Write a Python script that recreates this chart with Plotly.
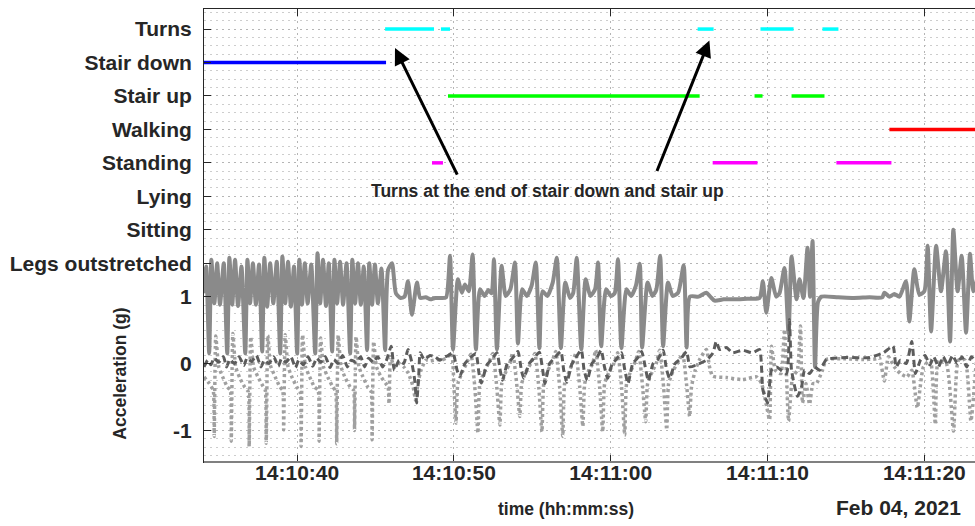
import numpy as np
import pandas as pd
import plotly.graph_objects as go

# ---------------- data ----------------
BASE_TIME = "2021-02-04 14:10:40"
X_START = -5.94   # seconds relative to BASE_TIME (visible window)
X_END = 43.23

# y-axis: activity levels sit above the acceleration scale (g)
y_tick_vals = [-1, 0, 1, 1.5, 2, 2.5, 3, 3.5, 4, 4.5, 5]
y_tick_text = ["-1", "0", "1", "Legs outstretched", "Sitting", "Lying", "Standing",
               "Walking", "Stair up", "Stair down", "Turns"]
activity_level = {"Legs outstretched": 1.5, "Sitting": 2.0, "Lying": 2.5, "Standing": 3.0,
                  "Walking": 3.5, "Stair up": 4.0, "Stair down": 4.5, "Turns": 5.0}

# activity segments: (start s, end s) relative to BASE_TIME
seg_stair_down = [(-6.5, 5.67)]
seg_turns = [(5.61, 8.73), (9.17, 9.75), (25.54, 26.56), (29.55, 31.66), (33.5, 34.52)]
seg_stair_up = [(9.62, 25.67), (29.17, 29.68), (31.53, 33.63)]
seg_walking = [(37.77, 46.0)]
seg_standing = [(8.6, 9.3), (26.5, 29.36), (34.39, 37.9)]

activity_colors = {"Turns": "#00FFFF", "Stair down": "#0000FF", "Stair up": "#00FF00",
                   "Walking": "#FF0000", "Standing": "#FF00FF"}

# acceleration (g) - solid (vertical axis)
acc_solid = [
    (-5.94, 1.05), (-5.80, 1.45), (-5.61, 0.15), (-5.47, 1.55), (-5.28, 0.9), (-5.10, 1.5),
    (-4.92, 0.88), (-4.68, 1.5), (-4.46, 0.15), (-4.32, 1.58), (-4.14, 0.88), (-3.96, 1.55),
    (-3.77, 0.86), (-3.55, 1.45), (-3.31, 0.15), (-3.17, 1.55), (-3.0, 0.9), (-2.82, 1.5),
    (-2.63, 0.88), (-2.43, 1.48), (-2.23, 0.18), (-2.09, 1.58), (-1.91, 0.85), (-1.72, 1.5),
    (-1.52, 0.9), (-1.3, 1.52), (-1.08, 0.15), (-0.94, 1.6), (-0.76, 0.9), (-0.58, 1.52),
    (-0.4, 0.85), (-0.2, 1.45), (0.0, 0.15), (0.14, 1.55), (0.31, 0.88), (0.49, 1.5),
    (0.67, 0.9), (0.9, 1.48), (1.15, 0.15), (1.3, 1.65), (1.47, 0.9), (1.65, 1.55),
    (1.84, 0.86), (2.02, 1.5), (2.23, 0.18), (2.38, 1.55), (2.55, 0.9), (2.74, 1.52),
    (2.93, 0.88), (3.15, 1.5), (3.38, 0.15), (3.52, 1.55), (3.7, 0.9), (3.88, 1.5),
    (4.06, 0.88), (4.25, 1.45), (4.46, 0.2), (4.6, 1.5), (4.78, 0.88), (4.96, 1.48),
    (5.15, 0.9), (5.38, 1.42), (5.61, 0.2),
    (5.8, 1.4), (6.05, 1.5), (6.3, 1.05), (6.6, 0.98), (6.85, 1.0), (7.07, 1.23), (7.32, 0.73),
    (7.64, 1.21), (7.85, 0.98), (8.2, 0.99), (8.5, 0.96), (8.8, 0.98), (9.2, 0.98), (9.5, 0.99),
    (9.75, 1.61), (9.94, 0.21), (10.25, 1.26), (10.5, 1.06), (10.7, 1.18), (10.95, 1.08),
    (11.19, 1.63), (11.4, 0.21), (11.66, 1.11), (11.95, 1.01), (12.2, 1.1), (12.4, 1.05),
    (12.55, 1.56), (12.74, 0.21), (13.04, 1.46), (13.3, 1.01), (13.6, 1.11),
    (13.89, 1.51), (14.08, 0.3), (14.35, 1.11), (14.65, 1.01), (14.95, 1.16),
    (15.22, 1.51), (15.45, 0.23), (15.65, 1.08), (15.95, 1.01), (16.3, 1.21),
    (16.56, 1.58), (16.82, 0.23), (17.1, 1.21), (17.4, 0.98), (17.6, 1.05),
    (17.83, 1.58), (18.12, 0.21), (18.4, 1.26), (18.7, 1.01), (19.0, 1.11),
    (19.19, 1.51), (19.39, 0.26), (19.7, 1.11), (20.0, 1.01), (20.25, 1.05),
    (20.46, 1.56), (20.68, 0.23), (21.0, 1.11), (21.3, 1.01), (21.6, 1.16),
    (21.85, 1.49), (22.0, 0.24), (22.35, 1.21), (22.65, 1.01), (22.9, 1.1),
    (23.15, 1.61), (23.34, 0.26), (23.65, 1.21), (23.95, 1.01), (24.3, 1.06),
    (24.65, 1.47), (24.84, 0.24),
    (25.05, 1.0), (25.6, 1.0), (26.1, 1.06), (26.35, 1.0), (26.62, 0.94), (27.2, 0.96),
    (28.0, 0.96), (28.8, 0.97), (29.49, 0.98), (29.7, 1.23), (29.92, 0.76), (30.24, 1.28),
    (30.55, 1.0), (30.76, 1.05), (31.08, 1.43), (31.34, 0.45), (31.53, 1.6), (31.85, 0.96),
    (32.04, 1.26), (32.29, 0.98), (32.55, 1.73), (32.71, 1.0), (32.87, 1.83), (33.03, -0.05),
    (33.22, 0.92), (33.44, 1.0), (34.5, 0.99), (35.5, 0.98), (36.5, 0.99), (37.32, 0.99),
    (37.45, 1.06), (37.77, 1.0), (38.09, 1.04), (38.41, 1.0), (38.83, 1.23), (39.04, 0.63),
    (39.36, 1.41), (39.68, 1.03), (40.0, 1.08), (40.21, 1.76), (40.43, 0.48), (40.75, 1.76),
    (41.06, 1.08), (41.38, 1.68), (41.64, 0.33), (41.85, 2.0), (42.12, 1.08), (42.38, 1.61),
    (42.66, 0.46), (42.91, 1.64), (43.12, 1.08), (43.4, 1.3),
]

# acceleration (g) - dashed (dark)
acc_dashed = [
    (-5.94, -0.05), (-5.7, 0.05), (-5.5, -0.02), (-5.3, 0.08), (-5.0, 0.02), (-4.7, 0.1),
    (-4.5, -0.05), (-4.3, 0.06), (-4.0, 0.0), (-3.7, 0.1), (-3.4, -0.03), (-3.2, 0.08),
    (-2.9, 0.03), (-2.6, 0.12), (-2.3, -0.05), (-2.1, 0.05), (-1.8, 0.0), (-1.5, 0.1),
    (-1.2, -0.04), (-1.0, 0.07), (-0.7, 0.02), (-0.4, 0.1), (-0.1, -0.06), (0.1, 0.05),
    (0.4, -0.02), (0.7, 0.1), (1.0, -0.04), (1.25, 0.08), (1.5, 0.02), (1.8, 0.1),
    (2.1, -0.06), (2.35, 0.06), (2.6, 0.0), (2.9, 0.12), (3.2, -0.05), (3.45, 0.05),
    (3.75, 0.02), (4.05, 0.1), (4.3, -0.05), (4.55, 0.08), (4.85, 0.02), (5.15, 0.1),
    (5.45, -0.05), (5.7, 0.05),
    (6.0, 0.26), (6.2, -0.1), (6.5, 0.05), (6.8, 0.0), (7.07, 0.21), (7.3, 0.03), (7.5, -0.25),
    (7.62, -0.59), (7.75, -0.2), (7.85, 0.16), (8.1, 0.06), (8.47, 0.12), (8.8, 0.1),
    (9.11, 0.05), (9.4, 0.1), (9.55, 0.11),
    (9.94, 0.16), (10.2, -0.1), (10.38, -0.19), (10.7, 0.0), (11.0, 0.08),
    (11.4, 0.15), (11.6, -0.15), (11.75, -0.29), (12.1, -0.02), (12.4, 0.06),
    (12.74, 0.16), (12.95, -0.1), (13.1, -0.25), (13.4, 0.0), (13.7, 0.07),
    (14.08, 0.18), (14.3, -0.1), (14.45, -0.22), (14.8, 0.0), (15.1, 0.08),
    (15.45, 0.17), (15.65, -0.08), (15.8, -0.3), (16.1, 0.0), (16.4, 0.08),
    (16.82, 0.18), (17.0, -0.1), (17.2, -0.28), (17.5, -0.02), (17.7, 0.06),
    (18.12, 0.2), (18.3, -0.1), (18.5, -0.25), (18.8, 0.0), (19.1, 0.08),
    (19.39, 0.2), (19.6, -0.05), (19.8, -0.22), (20.1, 0.0), (20.35, 0.06),
    (20.68, 0.16), (20.9, -0.1), (21.1, -0.3), (21.4, 0.0), (21.7, 0.08),
    (21.97, 0.18), (22.2, -0.05), (22.4, -0.26), (22.7, 0.0), (23.0, 0.06),
    (23.34, 0.2), (23.55, -0.08), (23.75, -0.22), (24.1, 0.0), (24.5, 0.08),
    (24.84, 0.18), (25.05, -0.05), (25.46, -0.02), (26.1, 0.05), (26.52, 0.16), (26.73, 0.33),
    (26.94, 0.21), (27.37, 0.24), (27.77, 0.16), (28.41, 0.2), (29.04, 0.16), (29.49, 0.21),
    (29.7, -0.39), (30.0, -0.59), (30.25, -0.1), (30.57, -0.05), (31.21, -0.15), (31.4, 0.66),
    (31.53, -0.1), (31.91, -0.49), (32.17, -0.35), (32.36, -0.1), (32.68, -0.15), (33.0, -0.05),
    (33.31, -0.1), (33.76, 0.06), (35.0, 0.09), (36.5, 0.09), (37.39, 0.16), (38.0, 0.26),
    (38.2, -0.05), (38.47, 0.05), (38.85, 0.0), (39.2, 0.33), (39.43, -0.15), (39.75, 0.05),
    (40.05, 0.12), (40.35, -0.02), (40.6, 0.1), (40.9, -0.05), (41.2, 0.1), (41.5, -0.02),
    (41.8, 0.12), (42.1, 0.0), (42.4, 0.1), (42.7, -0.05), (43.0, 0.1), (43.3, 0.02),
]

# acceleration (g) - dotted (light)
acc_dotted = [
    (-5.94, -0.2), (-5.6, -0.3), (-5.35, -0.4), (-5.29, -1.09), (-5.19, 0.41), (-5.0, -0.05),
    (-4.75, -0.2), (-4.45, -0.35), (-4.26, -0.4), (-4.2, -1.16), (-4.1, 0.45), (-3.92, -0.05),
    (-3.65, -0.22), (-3.35, -0.35), (-3.12, -0.42), (-3.06, -1.24), (-2.96, 0.4), (-2.78, -0.05),
    (-2.5, -0.2), (-2.2, -0.33), (-2.03, -0.4), (-1.97, -1.19), (-1.87, 0.42), (-1.7, -0.03),
    (-1.4, -0.2), (-1.1, -0.35), (-0.92, -0.4), (-0.86, -0.99), (-0.76, 0.43), (-0.58, -0.05),
    (-0.3, -0.22), (0.0, -0.36), (0.19, -0.42), (0.25, -1.24), (0.35, 0.43), (0.53, -0.05),
    (0.8, -0.2), (1.1, -0.35), (1.34, -0.4), (1.4, -1.16), (1.5, 0.38), (1.68, -0.05),
    (1.95, -0.2), (2.25, -0.34), (2.46, -0.42), (2.52, -1.2), (2.62, 0.42), (2.8, -0.05),
    (3.08, -0.22), (3.38, -0.35), (3.6, -0.4), (3.66, -1.0), (3.76, 0.4), (3.94, -0.05),
    (4.2, -0.2), (4.5, -0.35), (4.72, -0.42), (4.78, -1.14), (4.88, 0.33), (5.06, -0.05),
    (5.35, -0.2), (5.65, -0.3), (5.8, -0.35), (5.86, -0.6), (5.96, 0.1),
    (6.2, -0.05), (6.5, 0.0), (6.8, -0.05), (7.1, -0.15), (7.4, -0.35), (7.55, -0.55),
    (7.7, -0.3), (7.9, -0.1), (8.2, 0.05), (8.5, 0.04), (8.9, 0.06), (9.2, 0.05), (9.5, 0.08),
    (9.85, 0.15), (10.0, -0.35), (10.13, -0.89), (10.25, -0.3), (10.55, -0.12), (10.8, 0.0),
    (11.08, 0.14), (11.33, -0.35), (11.53, -1.04), (11.65, -0.3), (11.95, -0.12), (12.2, 0.0),
    (12.48, 0.15), (12.73, -0.35), (12.93, -0.92), (13.05, -0.3), (13.35, -0.1), (13.55, 0.0),
    (13.75, 0.16), (14.0, -0.3), (14.2, -0.79), (14.32, -0.3), (14.6, -0.12), (14.9, 0.0),
    (15.16, 0.15), (15.41, -0.35), (15.61, -1.02), (15.73, -0.3), (16.0, -0.1), (16.25, 0.02),
    (16.49, 0.18), (16.74, -0.35), (16.94, -1.09), (17.06, -0.3), (17.35, -0.12), (17.55, 0.0),
    (17.77, 0.15), (18.02, -0.35), (18.22, -0.94), (18.34, -0.3), (18.6, -0.1), (18.85, 0.0),
    (19.04, 0.2), (19.29, -0.35), (19.49, -1.02), (19.61, -0.3), (19.9, -0.12), (20.2, 0.0),
    (20.44, 0.16), (20.69, -0.35), (20.89, -1.07), (21.01, -0.3), (21.3, -0.1), (21.55, 0.02),
    (21.78, 0.18), (22.03, -0.35), (22.23, -0.87), (22.35, -0.3), (22.65, -0.12), (22.9, 0.0),
    (23.12, 0.2), (23.37, -0.35), (23.57, -0.99), (23.69, -0.3), (24.0, -0.1), (24.3, 0.02),
    (24.58, 0.15), (24.83, -0.3), (25.03, -0.79), (25.15, -0.35), (25.4, -0.09), (25.67, 0.06),
    (26.1, 0.21), (26.3, -0.05), (26.5, -0.19), (27.39, -0.21), (28.41, -0.24), (29.3, -0.2),
    (29.62, -0.3), (29.94, -0.64), (30.13, -0.84), (30.25, 0.26), (30.5, -0.1), (30.85, -0.15),
    (31.08, 0.51), (31.34, -0.86), (31.6, -0.2), (31.9, -0.1), (32.1, 0.56), (32.23, -0.59),
    (32.45, -0.3), (32.68, -0.61), (32.9, -0.3), (33.12, -0.3), (33.5, -0.1), (33.76, 0.06),
    (35.0, 0.07), (36.0, 0.06), (36.94, 0.07), (37.13, 0.09), (37.45, -0.26), (37.71, 0.1),
    (38.09, -0.05), (38.47, -0.15), (38.9, -0.2), (39.2, -0.1), (39.55, -0.66), (39.94, -0.05),
    (40.38, 0.05), (40.7, -0.91), (40.89, 0.05), (41.4, 0.0), (41.86, -1.01), (42.17, 0.05),
    (42.6, 0.05), (42.97, -0.86), (43.3, 0.0),
]

# ---------------- helpers ----------------
base = pd.Timestamp(BASE_TIME)


def to_time(seconds):
    return base + pd.to_timedelta(seconds, unit="s")


def split(points):
    t = [to_time(p[0]) for p in points]
    v = [p[1] for p in points]
    return t, v


def segments(segs, level):
    xs, ys = [], []
    for s, e in segs:
        xs += [to_time(s), to_time(e), None]
        ys += [level, level, None]
    return xs, ys


fig = go.Figure()

# acceleration signals
t, v = split(acc_solid)
fig.add_trace(go.Scatter(x=t, y=v, mode="lines",
                         line=dict(color="#8a8a8a", width=4, shape="spline", smoothing=0.6),
                         hoverinfo="skip"))
t, v = split(acc_dotted)
fig.add_trace(go.Scatter(x=t, y=v, mode="lines",
                         line=dict(color="#a0a0a0", width=3.5, dash="3px,3px",
                                   shape="spline", smoothing=0.5),
                         hoverinfo="skip"))
t, v = split(acc_dashed)
fig.add_trace(go.Scatter(x=t, y=v, mode="lines",
                         line=dict(color="#5c5c5c", width=3, dash="7px,4px",
                                   shape="spline", smoothing=0.5),
                         hoverinfo="skip"))

# activity segments
for name, segs in [("Stair down", seg_stair_down), ("Turns", seg_turns), ("Stair up", seg_stair_up),
                   ("Walking", seg_walking), ("Standing", seg_standing)]:
    xs, ys = segments(segs, activity_level[name])
    fig.add_trace(go.Scatter(x=xs, y=ys, mode="lines", connectgaps=False,
                             line=dict(color=activity_colors[name], width=3.5), name=name))

FONT = "Liberation Sans, Arial, Helvetica, sans-serif"
TXT = "#262626"

fig.update_layout(
    width=975, height=526,
    margin=dict(l=204, r=0, t=9, b=64),
    plot_bgcolor="white", paper_bgcolor="white",
    showlegend=False,
    font=dict(family=FONT, color=TXT),
)

fig.update_xaxes(
    type="date",
    range=[to_time(X_START), to_time(X_END)],
    tick0="2021-02-04 14:10:00", dtick=10000, tickformat="%H:%M:%S",
    ticks="inside", ticklen=7, tickwidth=1, tickcolor=TXT,
    showline=True, linecolor=TXT, linewidth=1, mirror="ticks",
    showgrid=True, gridcolor="#b5b5b5", griddash="2px,4px", gridwidth=1,
    zeroline=False,
    tickfont=dict(family=FONT, size=21, color=TXT, weight="bold"),
    ticklabelstandoff=-8,
)

fig.update_yaxes(
    range=[-1.472, 5.30],
    tickmode="array", tickvals=y_tick_vals, ticktext=y_tick_text,
    ticks="inside", ticklen=7, tickwidth=1, tickcolor=TXT,
    showline=True, linecolor=TXT, linewidth=1, mirror=False,
    showgrid=True, gridcolor="#b5b5b5", griddash="2px,4px", gridwidth=1,
    minor=dict(tick0=0, dtick=0.125, showgrid=True, gridcolor="#cdcdcd",
               griddash="2px,4px", gridwidth=1, ticks=""),
    zeroline=False,
    tickfont=dict(family=FONT, size=21, color=TXT, weight="bold"),
    ticklabelstandoff=7,
)

bold = dict(family=FONT, color=TXT, weight="bold")

fig.add_shape(type="line", xref="paper", yref="paper", x0=0, x1=1, y0=0, y1=0,
              line=dict(color="#808080", width=2), layer="above")

fig.add_annotation(xref="paper", yref="paper", x=0.469, y=-0.1045, text="time (hh:mm:ss)",
                   showarrow=False, xanchor="center", yanchor="middle", font=dict(size=17.5, **bold))
fig.add_annotation(xref="paper", yref="paper", x=0.9844, y=-0.1015, text="Feb 04, 2021",
                   showarrow=False, xanchor="right", yanchor="middle", font=dict(size=21, **bold))
fig.add_annotation(xref="paper", yref="paper", x=-0.109, y=0.195, text="Acceleration (g)",
                   textangle=-90, showarrow=False, xanchor="center", yanchor="middle",
                   font=dict(size=17.5, **bold))
fig.add_annotation(xref="paper", yref="paper", x=0.446, y=0.598,
                   text="Turns at the end of stair down and stair up",
                   showarrow=False, xanchor="center", yanchor="middle", font=dict(size=17.5, **bold))

# arrows pointing at the turn segments
fig.add_annotation(x=to_time(6.24), y=4.716, xref="x", yref="y", text="", showarrow=True,
                   ax=63, ay=128, arrowhead=2, arrowsize=1.1, arrowwidth=3, arrowcolor="#000000",
                   standoff=0)
fig.add_annotation(x=to_time(26.29), y=4.83, xref="x", yref="y", text="", showarrow=True,
                   ax=-53, ay=132, arrowhead=2, arrowsize=1.1, arrowwidth=3, arrowcolor="#000000",
                   standoff=0)

fig.write_html("out.html")
